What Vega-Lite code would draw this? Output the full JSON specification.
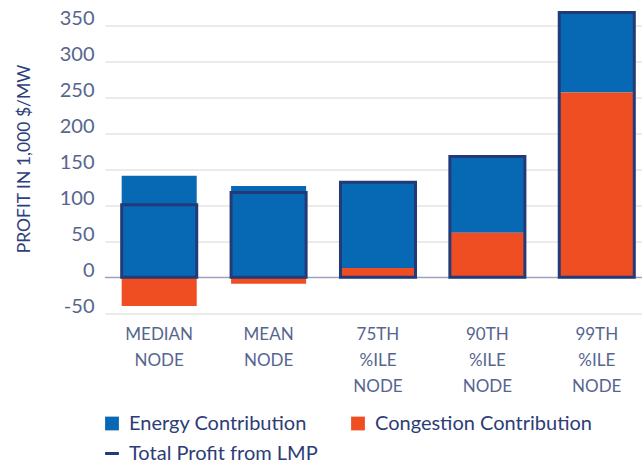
{
  "$schema": "https://vega.github.io/schema/vega-lite/v6.json",
  "autosize": "none",
  "width": 537,
  "height": 313,
  "padding": {"left": 105, "top": 7.5, "right": 0, "bottom": 147.5},
  "background": "white",
  "config": {
    "font": "Lato",
    "view": {"stroke": null},
    "axisY": {
      "labelOverlap": false,
      "labelFontSize": 20,
      "labelColor": "#56668f",
      "labelPadding": 11,
      "labelOffset": -7,
      "ticks": false,
      "domain": false,
      "grid": true,
      "gridColor": "#e6e4df",
      "gridWidth": 1.4
    },
    "axisX": {
      "labelAngle": 0,
      "labelFontSize": 17,
      "labelColor": "#56658f",
      "labelPadding": 6,
      "labelLineHeight": 26,
      "labelBaseline": "top",
      "ticks": false,
      "domain": false,
      "grid": false
    }
  },
  "datasets": {
    "parts": [
      {"node": "MEDIAN NODE", "series": "Energy Contribution", "value": 141},
      {"node": "MEDIAN NODE", "series": "Congestion Contribution", "value": -40},
      {"node": "MEAN NODE", "series": "Energy Contribution", "value": 127},
      {"node": "MEAN NODE", "series": "Congestion Contribution", "value": -9},
      {"node": "75TH %ILE NODE", "series": "Energy Contribution", "value": 119},
      {"node": "75TH %ILE NODE", "series": "Congestion Contribution", "value": 13},
      {"node": "90TH %ILE NODE", "series": "Energy Contribution", "value": 106},
      {"node": "90TH %ILE NODE", "series": "Congestion Contribution", "value": 62},
      {"node": "99TH %ILE NODE", "series": "Energy Contribution", "value": 111},
      {"node": "99TH %ILE NODE", "series": "Congestion Contribution", "value": 257}
    ],
    "totals": [
      {"node": "MEDIAN NODE", "series": "Total Profit from LMP", "value": 101},
      {"node": "MEAN NODE", "series": "Total Profit from LMP", "value": 118},
      {"node": "75TH %ILE NODE", "series": "Total Profit from LMP", "value": 132},
      {"node": "90TH %ILE NODE", "series": "Total Profit from LMP", "value": 168},
      {"node": "99TH %ILE NODE", "series": "Total Profit from LMP", "value": 368}
    ],
    "zero": [{"value": 0}]
  },
  "layer": [
    {
      "data": {"name": "zero"},
      "mark": {"type": "rule", "color": "#9aa0c6", "strokeWidth": 1.3},
      "encoding": {"y": {"field": "value", "type": "quantitative"}}
    },
    {
      "data": {"name": "parts"},
      "mark": {"type": "bar"},
      "encoding": {
        "x": {
          "field": "node", "type": "nominal", "sort": null, "title": null,
          "scale": {"paddingInner": 0.314, "paddingOuter": 0.1115, "align": 0.684},
          "axis": {"labelExpr": "split(datum.label, ' ')"}
        },
        "y": {
          "field": "value", "type": "quantitative", "stack": "zero",
          "scale": {"domain": [-60, 375], "nice": false, "zero": false},
          "axis": {
            "values": [-50, 0, 50, 100, 150, 200, 250, 300, 350],
            "tickCount": 20,
            "labelExpr": "replace(datum.label, '−', '-')",
            "labelOverlap": false,
            "grid": true,
            "title": "PROFIT IN 1,000 $/MW",
            "titleFontSize": 17.5,
            "titleFontWeight": "normal",
            "titleColor": "#2e3f7d",
            "titleX": -72,
            "titleY": 151
          }
        },
        "color": {
          "field": "series", "type": "nominal",
          "scale": {
            "domain": ["Energy Contribution", "Congestion Contribution", "Total Profit from LMP"],
            "range": ["#0769b4", "#ef4e23", "#233a78"]
          },
          "legend": {
            "title": null,
            "orient": "none",
            "legendX": -3,
            "legendY": 406,
            "columns": 2,
            "direction": "horizontal",
            "padding": 0,
            "symbolType": "square",
            "symbolSize": 190,
            "labelFontSize": 20,
            "labelLimit": 0,
            "labelColor": "#2d3c78",
            "labelOffset": 7,
            "columnPadding": 30,
            "rowPadding": 10,
            "encode": {
              "symbols": {
                "update": {
                  "shape": {"signal": "datum.value === 'Total Profit from LMP' ? 'stroke' : 'square'"},
                  "fill": {"signal": "datum.value === 'Total Profit from LMP' ? 'transparent' : scale('color', datum.value)"},
                  "stroke": {"signal": "datum.value === 'Total Profit from LMP' ? '#233a78' : 'transparent'"},
                  "strokeWidth": {"signal": "datum.value === 'Total Profit from LMP' ? 3 : 0"},
                  "opacity": {"value": 1}
                }
              }
            }
          }
        },
        "order": {"field": "series", "sort": "ascending"}
      }
    },
    {
      "data": {"name": "totals"},
      "mark": {"type": "bar", "filled": false, "strokeWidth": 3},
      "encoding": {
        "x": {"field": "node", "type": "nominal", "sort": null},
        "y": {"field": "value", "type": "quantitative"},
        "color": {"field": "series", "type": "nominal"}
      }
    }
  ]
}
